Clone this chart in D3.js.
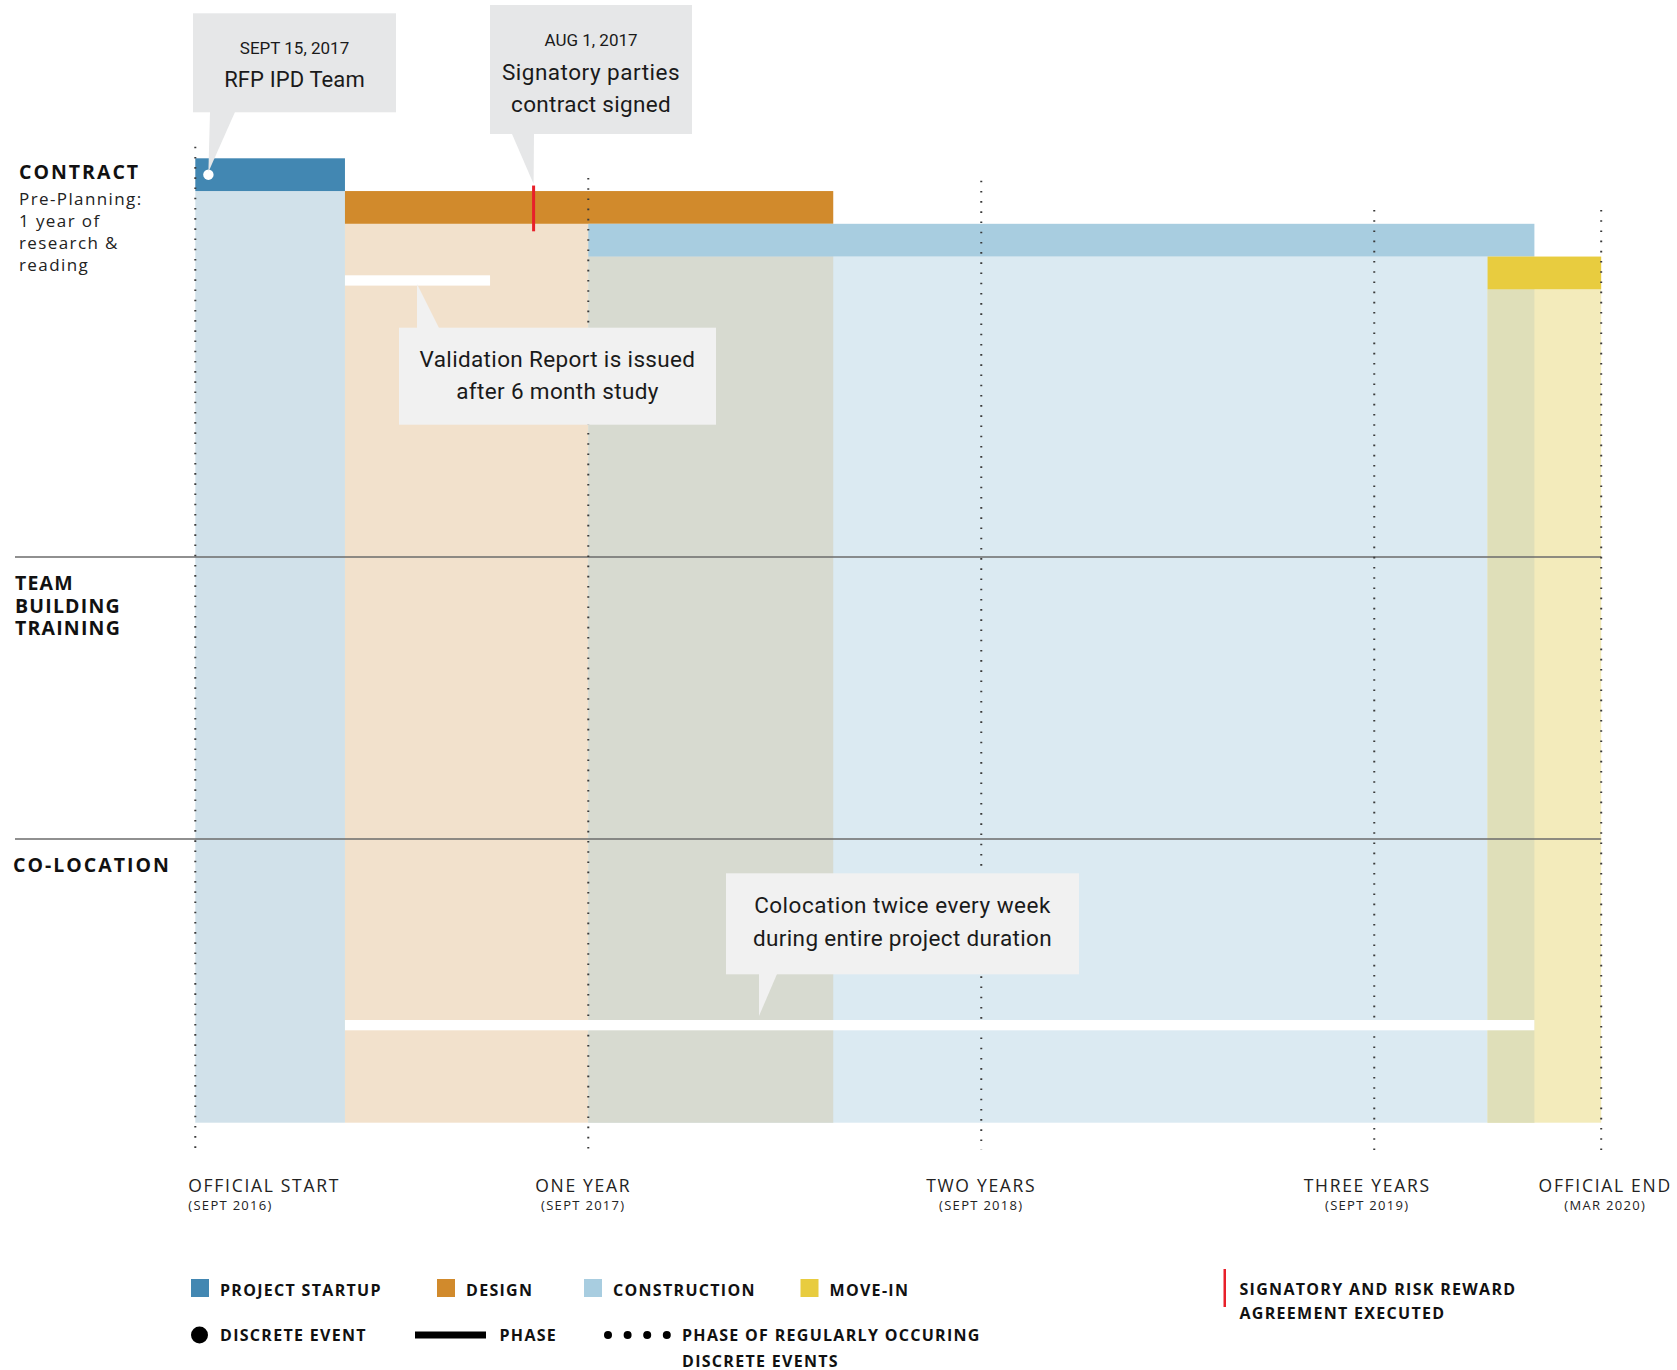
<!DOCTYPE html>
<html>
<head>
<meta charset="utf-8">
<script src="https://cdn.jsdelivr.net/npm/d3@7"></script>
<style>
  html, body { margin: 0; padding: 0; background: #fff; }
  svg { display: block; }
  .hdr { font-family: "Open Sans", sans-serif; font-weight: 700; fill: #111; }
  .cap { font-family: "Open Sans", sans-serif; fill: #222; }
  .call { font-family: Roboto, sans-serif; fill: #1a1a1a; }
</style>
</head>
<body>
<script>
// ---------------- DATA ----------------
// time measured in months since the official start (Sept 2016)
const phases      = ["PROJECT STARTUP", "DESIGN", "CONSTRUCTION", "MOVE-IN"];
const phaseStart  = [0, 4.57, 12, 39.46];
const phaseEnd    = [4.57, 19.48, 40.89, 42.93];

const tickMonths  = [0, 12, 24, 36, 42.93];
const tickLabels  = ["OFFICIAL START", "ONE YEAR", "TWO YEARS", "THREE YEARS", "OFFICIAL END"];
const tickSubs    = ["(SEPT 2016)", "(SEPT 2017)", "(SEPT 2018)", "(SEPT 2019)", "(MAR 2020)"];

const rowLabels   = [["CONTRACT"], ["TEAM", "BUILDING", "TRAINING"], ["CO-LOCATION"]];
const contractNote = ["Pre-Planning:", "1 year of", "research &", "reading"];

// discrete event (dot) and signatory milestone (red mark)
const eventMonth      = 0.4;
const eventLines      = ["SEPT 15, 2017", "RFP IPD Team"];
const signatoryMonth  = 10.33;
const signatoryLines  = ["AUG 1, 2017", "Signatory parties", "contract signed"];

// white phase bars
const phaseBarNames   = ["Validation", "Colocation"];
const phaseBarStart   = [4.57, 4.57];
const phaseBarEnd     = [9.0, 40.89];
const validationLines = ["Validation Report is issued", "after 6 month study"];
const colocationLines = ["Colocation twice every week", "during entire project duration"];

const legendPhases = ["PROJECT STARTUP", "DESIGN", "CONSTRUCTION", "MOVE-IN"];
const legendMarks  = ["DISCRETE EVENT", "PHASE", "PHASE OF REGULARLY OCCURING|DISCRETE EVENTS"];
const legendSign   = ["SIGNATORY AND RISK REWARD", "AGREEMENT EXECUTED"];

// ---------------- STYLE ----------------
const barColors = ["#4287b2", "#d18a2c", "#a8cde0", "#e8cc3f"];
const bgColors  = ["#d1e1ea", "#f2e1cc", "#dbeaf2", "#f3ebbb"];
const overlapColors = { "1-2": "#d7dad0", "2-3": "#dfdfb9" };

const W = 1677, H = 1370;
const svg = d3.select("body").append("svg").attr("width", W).attr("height", H);

const x = d3.scaleLinear().domain([0, 42.93]).range([195.3, 1601.2]);
const y = d3.scaleBand().domain(phases).range([158.3, 289.3]).padding(0);
const bw = y.bandwidth();
const chartBottom = 1122.7;

// background columns
const pdata = phases.map((p, i) => ({ p, i, s: phaseStart[i], e: phaseEnd[i] }));
svg.append("g").selectAll("rect").data(pdata).join("rect")
  .attr("x", d => x(d.s)).attr("width", d => x(d.e) - x(d.s))
  .attr("y", d => y(d.p) + bw).attr("height", d => chartBottom - y(d.p) - bw)
  .attr("fill", d => bgColors[d.i]);

// overlaps
const ov = [];
for (let i = 0; i < phases.length; i++) for (let j = i + 1; j < phases.length; j++) {
  const s = Math.max(phaseStart[i], phaseStart[j]), e = Math.min(phaseEnd[i], phaseEnd[j]);
  if (e > s && overlapColors[i + "-" + j]) ov.push({ s, e, top: y(phases[j]) + bw, c: overlapColors[i + "-" + j] });
}
svg.append("g").selectAll("rect").data(ov).join("rect")
  .attr("x", d => x(d.s)).attr("width", d => x(d.e) - x(d.s))
  .attr("y", d => d.top).attr("height", d => chartBottom - d.top)
  .attr("fill", d => d.c);

// phase bars
svg.append("g").selectAll("rect").data(pdata).join("rect")
  .attr("x", d => x(d.s)).attr("width", d => x(d.e) - x(d.s))
  .attr("y", d => y(d.p)).attr("height", bw)
  .attr("fill", d => barColors[d.i]);

// row dividers
const dividerY = [557, 839];
svg.append("g").selectAll("line").data(dividerY).join("line")
  .attr("x1", 15).attr("x2", x(42.93)).attr("y1", d => d).attr("y2", d => d)
  .attr("stroke", "#6b6b6b").attr("stroke-width", 1.3);

// dotted tick lines
const tickTops = [146.7, 178, 180.7, 210, 210];
svg.append("g").selectAll("line").data(tickMonths).join("line")
  .attr("x1", d => x(d)).attr("x2", d => x(d))
  .attr("y1", (d, i) => tickTops[i]).attr("y2", 1150)
  .attr("stroke", "#3a3a3a").attr("stroke-width", 2)
  .attr("stroke-dasharray", "1.6 8.6");

// white phase bars
const pbY = [275.3, 1020];
svg.append("g").selectAll("rect").data(phaseBarNames).join("rect")
  .attr("x", (d, i) => x(phaseBarStart[i])).attr("width", (d, i) => x(phaseBarEnd[i]) - x(phaseBarStart[i]))
  .attr("y", (d, i) => pbY[i]).attr("height", 10.3).attr("fill", "#fff");

// red signatory mark
svg.append("rect").attr("x", x(signatoryMonth) - 1.5).attr("width", 3)
  .attr("y", y("DESIGN") - 5.5).attr("height", bw + 13).attr("fill", "#e8202a");

// event dot
svg.append("circle").attr("cx", x(eventMonth)).attr("cy", y(phases[0]) + bw / 2).attr("r", 5.2).attr("fill", "#fff");

// ---------- callouts ----------
function callout(box, ptr, fill, lines, sizes, spacing, baselines) {
  const g = svg.append("g");
  g.append("path").attr("d", d3.line()(ptr) + "Z").attr("fill", fill);
  g.append("rect").attr("x", box[0]).attr("y", box[1]).attr("width", box[2]).attr("height", box[3]).attr("fill", fill);
  lines.forEach((t, i) => {
    g.append("text").attr("class", "call").attr("x", box[0] + box[2] / 2).attr("y", baselines[i])
      .attr("text-anchor", "middle").attr("font-size", sizes[i]).attr("letter-spacing", spacing[i]).text(t);
  });
}
const ex = x(eventMonth), sx = x(signatoryMonth);
callout([193, 13.3, 203, 99], [[210, 112], [235, 112], [ex, 172]], "#e6e7e8", eventLines, [17, 22], [0, 0.1], [54, 87]);
callout([490, 5, 202, 129], [[512, 134], [534, 134], [sx, 184]], "#e6e7e8", signatoryLines, [17, 22.5, 22.5], [0, 0.5, 0.3], [46, 79.5, 112]);
callout([399, 327.7, 317, 97], [[417, 328], [439, 328], [417, 284]], "#f1f1f1", validationLines, [22.5, 22.5], [0.35, 0.35], [366.5, 399]);
callout([726, 873.3, 353, 101], [[759, 974], [777, 974], [759, 1016]], "#f1f1f1", colocationLines, [22.5, 22.5], [0.5, 0.35], [912.5, 946]);

// ---------- row labels ----------
const rowLabelY = [179, 590, 871.5];
const rowLabelX = [19, 15, 13];
const rowSpacing = [2, 1.2, 2];
rowLabels.forEach((lines, r) => {
  const t = svg.append("text").attr("class", "hdr").attr("x", rowLabelX[r]).attr("y", rowLabelY[r])
    .attr("font-size", 19.5).attr("letter-spacing", rowSpacing[r]);
  lines.forEach((s, k) => t.append("tspan").attr("x", rowLabelX[r]).attr("dy", k === 0 ? 0 : 22.5).text(s));
});
const note = svg.append("text").attr("class", "cap").attr("x", 19).attr("y", 205)
  .attr("font-size", 17).attr("letter-spacing", 1.4);
contractNote.forEach((s, k) => note.append("tspan").attr("x", 19).attr("dy", k === 0 ? 0 : 22).text(s));

// ---------- tick labels ----------
const tickAnchor = ["start", "middle", "middle", "middle", "middle"];
const tickDx = [-7, -5, 0, -7, 4];
const tg = svg.append("g");
tickMonths.forEach((m, i) => {
  tg.append("text").attr("class", "cap").attr("x", x(m) + tickDx[i]).attr("y", 1191.5)
    .attr("text-anchor", tickAnchor[i]).attr("font-size", 17.5).attr("letter-spacing", 1.7).text(tickLabels[i]);
  tg.append("text").attr("class", "cap").attr("x", x(m) + tickDx[i]).attr("y", 1210)
    .attr("text-anchor", tickAnchor[i]).attr("font-size", 13).attr("letter-spacing", 1.3).text(tickSubs[i]);
});

// ---------- legend ----------
const lg = svg.append("g");
const legX = [191, 437, 584, 800.5];
legendPhases.forEach((t, i) => {
  lg.append("rect").attr("x", legX[i]).attr("y", 1279).attr("width", 18).attr("height", 18).attr("fill", barColors[i]);
  lg.append("text").attr("class", "hdr").attr("x", legX[i] + 29).attr("y", 1296)
    .attr("font-size", 16).attr("font-weight", 600).attr("letter-spacing", 1.3).text(t);
});
lg.append("circle").attr("cx", 199.5).attr("cy", 1335).attr("r", 8.5).attr("fill", "#000");
lg.append("rect").attr("x", 415).attr("y", 1331.5).attr("width", 71).attr("height", 7).attr("fill", "#000");
lg.selectAll(".rd").data(d3.range(4)).join("circle").attr("class", "rd")
  .attr("cx", d => 608 + d * 19.6).attr("cy", 1335).attr("r", 4).attr("fill", "#000");
const markX = [220, 499.5, 682];
legendMarks.forEach((t, i) => {
  const tx = lg.append("text").attr("class", "hdr").attr("x", markX[i]).attr("y", 1341)
    .attr("font-size", 16).attr("font-weight", 600).attr("letter-spacing", 1.3);
  t.split("|").forEach((s, k) => tx.append("tspan").attr("x", markX[i]).attr("dy", k === 0 ? 0 : 25.5).text(s));
});
lg.append("rect").attr("x", 1223.5).attr("y", 1269).attr("width", 2.5).attr("height", 38).attr("fill", "#e8202a");
const st = lg.append("text").attr("class", "hdr").attr("x", 1239.5).attr("y", 1295)
  .attr("font-size", 16).attr("font-weight", 600).attr("letter-spacing", 1.3);
legendSign.forEach((s, k) => st.append("tspan").attr("x", 1239.5).attr("dy", k === 0 ? 0 : 23.5).text(s));
</script>
</body>
</html>
